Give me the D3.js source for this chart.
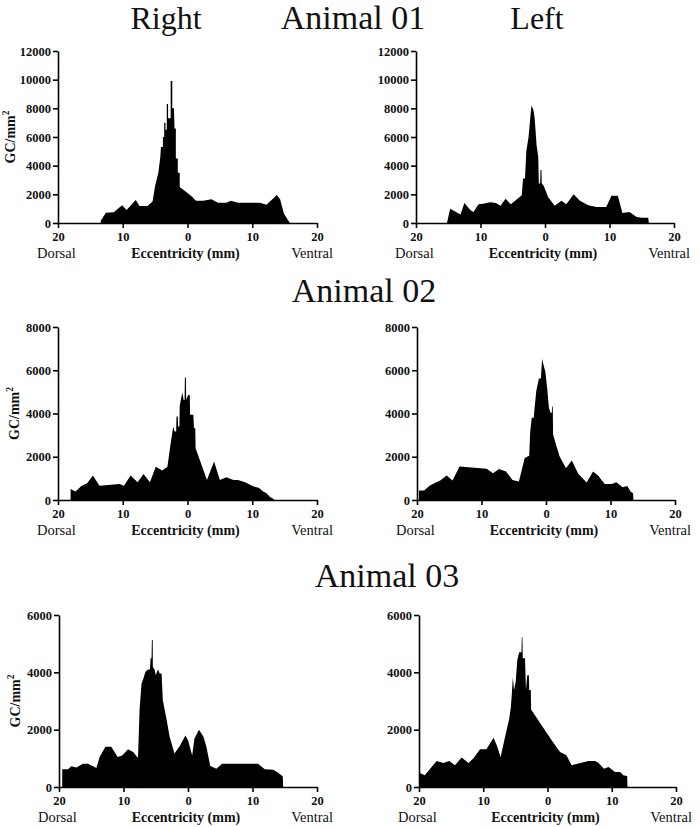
<!DOCTYPE html>
<html>
<head>
<meta charset="utf-8">
<script src="https://cdn.jsdelivr.net/npm/d3@7/dist/d3.min.js"></script>
<style>
  body { margin: 0; background: #fff; }
  svg { display: block; }
</style>
</head>
<body>
<svg id="chart" width="700" height="827" font-family="Liberation Serif, DejaVu Serif, serif"></svg>
<script>
// ---- Data (eccentricity mm, GC/mm²); negative = dorsal, positive = ventral ----
const a1Right = [[-13.4,0],[-13.4,150],[-12.6,720],[-11.4,750],[-10.1,1230],[-9.4,900],[-8.0,1600],[-7.4,1180],[-6.2,1180],[-5.4,1500],[-5.0,2600],[-4.5,3500],[-4.2,4600],[-4.1,5300],[-3.8,5300],[-3.8,6000],[-3.6,6000],[-3.6,7000],[-3.4,7000],[-3.4,6500],[-3.2,6500],[-3.2,8300],[-3.0,8300],[-3.0,7300],[-2.6,7300],[-2.6,9900],[-2.35,9900],[-2.35,8000],[-2.1,8000],[-2.0,6600],[-1.8,6600],[-1.8,4500],[-1.5,4500],[-1.5,3500],[-1.2,3500],[-1.2,2500],[-0.9,2400],[0,2100],[0.8,1800],[1.3,1550],[2.4,1550],[3.7,1650],[4.7,1420],[6.0,1420],[6.7,1550],[7.8,1420],[11.2,1420],[12.2,1280],[13.8,1950],[14.3,1650],[14.9,650],[15.8,0]];
const a1Left = [[-15.2,0],[-14.7,1000],[-13.1,600],[-12.5,1400],[-11.5,880],[-11.1,770],[-10.3,1300],[-9.6,1350],[-8.5,1450],[-7.6,1400],[-6.9,1200],[-6.1,1700],[-5.3,1300],[-3.6,1930],[-3.4,3100],[-3.1,3100],[-2.9,5000],[-2.55,6000],[-2.35,7000],[-2.1,8200],[-1.8,7900],[-1.6,7300],[-1.3,5400],[-1.05,4600],[-0.95,2750],[-0.75,2750],[-0.7,3700],[-0.55,3700],[-0.5,2750],[-0.2,2600],[0.5,1800],[1.5,1200],[2.55,1550],[3.3,1300],[4.45,2000],[5.4,1550],[6.7,1230],[8.0,1120],[9.5,1120],[10.3,1900],[11.3,1900],[12.0,700],[13.1,770],[14.2,420],[15.0,370],[16.0,370],[16.1,0]];
const a2Right = [[-18.05,0],[-18.05,510],[-17.3,390],[-16.4,650],[-15.5,770],[-14.6,1130],[-13.6,660],[-10.5,740],[-9.8,660],[-8.8,1130],[-7.7,820],[-6.8,1200],[-5.8,820],[-4.9,1540],[-3.9,1360],[-3.1,1540],[-2.6,2620],[-2.2,3400],[-2.0,3170],[-1.75,3170],[-1.7,3860],[-1.5,3860],[-1.45,3400],[-1.25,3400],[-1.2,4370],[-0.8,4970],[-0.6,4630],[-0.45,4630],[-0.4,5670],[-0.25,5670],[-0.2,4630],[0.1,4860],[0.35,4860],[0.4,3940],[0.9,3940],[1.0,3320],[1.2,3320],[1.25,2390],[1.9,1850],[3.0,930],[4.1,1780],[5.0,930],[6.0,1050],[7.1,930],[7.8,930],[8.9,820],[10.2,620],[11.0,570],[11.7,390],[12.2,310],[12.7,150],[13.3,50],[13.4,0]];
const a2Left = [[-19.7,0],[-19.7,435],[-18.9,435],[-18.0,670],[-17.0,820],[-16.4,900],[-15.4,1130],[-14.5,900],[-13.4,1550],[-9.2,1440],[-8.2,1240],[-7.3,1430],[-6.2,1320],[-5.2,930],[-4.2,850],[-3.3,1940],[-2.6,2050],[-2.45,3180],[-2.2,3800],[-1.9,3800],[-1.75,4320],[-1.5,5050],[-1.1,5620],[-0.8,5620],[-0.6,6520],[-0.35,6210],[-0.1,5930],[0.2,5120],[0.45,4270],[0.7,4040],[0.9,4040],[0.95,4320],[1.05,4320],[1.1,3030],[1.5,2610],[2.1,2020],[3.1,1470],[4.0,1830],[5.0,1210],[6.3,810],[7.3,1320],[8.1,1120],[9.1,745],[10.2,745],[10.9,820],[11.9,590],[12.6,650],[13.1,390],[13.5,310],[13.55,0]];
const a3Right = [[-19.5,0],[-19.5,620],[-18.6,620],[-18.1,720],[-17.3,680],[-16.3,815],[-15.5,815],[-14.2,665],[-13.7,1050],[-12.8,1400],[-11.9,1400],[-10.9,1050],[-10.2,1100],[-9.3,1320],[-8.5,1220],[-7.75,1010],[-7.5,2740],[-7.2,3610],[-6.9,3790],[-6.6,4020],[-6.2,4100],[-5.9,4100],[-5.8,4490],[-5.65,4490],[-5.6,5130],[-5.47,5130],[-5.45,4190],[-5.15,4080],[-5.0,3900],[-4.65,4110],[-4.4,3960],[-4.1,3960],[-3.9,3030],[-3.35,2390],[-2.85,1750],[-2.1,1165],[-1.3,1420],[-0.4,1800],[0,1630],[0.65,1100],[1.0,1690],[1.7,2000],[2.4,1750],[2.85,1400],[3.45,730],[4.4,640],[5.3,815],[10.85,815],[11.9,620],[13.2,600],[14.0,500],[14.7,370],[14.75,0]];
const a3Left = [[-19.95,0],[-19.95,500],[-19.1,410],[-17.25,910],[-16.2,840],[-15.3,910],[-14.4,760],[-13.35,1025],[-12.3,840],[-11.55,990],[-10.5,1320],[-9.5,1320],[-8.4,1720],[-7.9,1460],[-7.3,1050],[-6.6,1750],[-5.95,2390],[-5.7,2800],[-5.55,3260],[-5.4,3820],[-5.2,3380],[-4.95,3670],[-4.7,4430],[-4.4,4700],[-4.05,4700],[-4.0,5220],[-3.9,5220],[-3.85,4490],[-3.5,4490],[-3.35,3380],[-3.15,3900],[-2.9,3900],[-2.85,3380],[-2.6,3380],[-2.55,2700],[-0.4,1980],[0.65,1630],[1.95,1220],[2.95,1110],[3.75,760],[6.35,910],[7.4,910],[7.9,850],[8.8,640],[9.5,700],[10.5,525],[11.3,525],[11.8,410],[12.4,385],[12.45,0]];

const yTicks1 = [0, 2000, 4000, 6000, 8000, 10000, 12000];
const yTicks2 = [0, 2000, 4000, 6000, 8000];
const yTicks3 = [0, 2000, 4000, 6000];
const xTicks = [-20, -10, 0, 10, 20];
const titles = ["Animal 01", "Animal 02", "Animal 03"];
const sideLabels = ["Right", "Left"];

const FONT = "Liberation Serif";
const INK = "#111";

// ---- Layout ----
const svg = d3.select("#chart");
const panels = [
  {data: a1Right, ticks: yTicks1, x0: 58,  x1: 317, y0: 51,  y1: 223, ylab: true,  ylx: 10},
  {data: a1Left,  ticks: yTicks1, x0: 416, x1: 674, y0: 51,  y1: 223, ylab: false},
  {data: a2Right, ticks: yTicks2, x0: 58,  x1: 317, y0: 327, y1: 500, ylab: true,  ylx: 14},
  {data: a2Left,  ticks: yTicks2, x0: 417, x1: 675, y0: 327, y1: 500, ylab: false},
  {data: a3Right, ticks: yTicks3, x0: 59,  x1: 317, y0: 615, y1: 787, ylab: true,  ylx: 15},
  {data: a3Left,  ticks: yTicks3, x0: 419, x1: 676, y0: 615, y1: 787, ylab: false}
];

function txt(sel) {
  return sel.attr("font-family", FONT).style("font-family", FONT).attr("fill", INK);
}

panels.forEach(p => {
  const x = d3.scaleLinear().domain([-20, 20]).range([p.x0, p.x1]);
  const y = d3.scaleLinear().domain([0, d3.max(p.ticks)]).range([p.y1, p.y0]);
  const g = svg.append("g");

  const area = d3.area()
    .x(d => x(d[0]))
    .y0(y(0))
    .y1(d => y(d[1]));
  g.append("path").datum(p.data).attr("d", area).attr("fill", "#000");

  const xAxis = g.append("g").attr("transform", `translate(0,${p.y1})`)
    .call(d3.axisBottom(x).tickValues(xTicks).tickFormat(d => Math.abs(d)).tickSize(5).tickSizeOuter(0));
  const yAxis = g.append("g").attr("transform", `translate(${p.x0},0)`)
    .call(d3.axisLeft(y).tickValues(p.ticks).tickFormat(d3.format("d")).tickSize(5).tickSizeOuter(0));

  [xAxis, yAxis].forEach(a => {
    a.attr("font-family", FONT);
    a.select(".domain").attr("stroke", "#000").attr("stroke-width", 1.6);
    a.selectAll(".tick line").attr("stroke", "#000").attr("stroke-width", 1.6);
    txt(a.selectAll(".tick text"))
      .style("font-weight", "bold")
      .style("font-size", "12.5px");
  });
  xAxis.selectAll(".tick text").attr("y", 9);
  yAxis.selectAll(".tick text").attr("x", -7);

  const mid = (p.x0 + p.x1) / 2;
  txt(g.append("text")).attr("x", p.x0 - 21).attr("y", p.y1 + 35)
    .style("font-size", "14.5px").text("Dorsal");
  txt(g.append("text")).attr("x", p.x1 + 16).attr("y", p.y1 + 35).attr("text-anchor", "end")
    .style("font-size", "14.5px").text("Ventral");
  txt(g.append("text")).attr("x", mid - 2).attr("y", p.y1 + 35).attr("text-anchor", "middle")
    .style("font-size", "14px").style("font-weight", "bold").text("Eccentricity (mm)");

  if (p.ylab) {
    const cy = (p.y0 + p.y1) / 2;
    const t = txt(g.append("text"))
      .attr("transform", `translate(${p.ylx + 5},${cy}) rotate(-90)`)
      .attr("text-anchor", "middle")
      .style("font-size", "14px").style("font-weight", "bold");
    t.append("tspan").text("GC/mm");
    t.append("tspan").attr("dy", -6).style("font-size", "9.5px").text("2");
  }
});

// ---- Titles ----
txt(svg.append("text")).attr("x", 166).attr("y", 29).attr("text-anchor", "middle")
  .style("font-size", "32px").text(sideLabels[0]);
txt(svg.append("text")).attr("x", 537).attr("y", 29).attr("text-anchor", "middle")
  .style("font-size", "32px").text(sideLabels[1]);
const titlePos = [[353, 29], [364, 302], [387, 587]];
titles.forEach((t, i) => {
  txt(svg.append("text")).attr("x", titlePos[i][0]).attr("y", titlePos[i][1]).attr("text-anchor", "middle")
    .style("font-size", "34px").text(t);
});
</script>
</body>
</html>
